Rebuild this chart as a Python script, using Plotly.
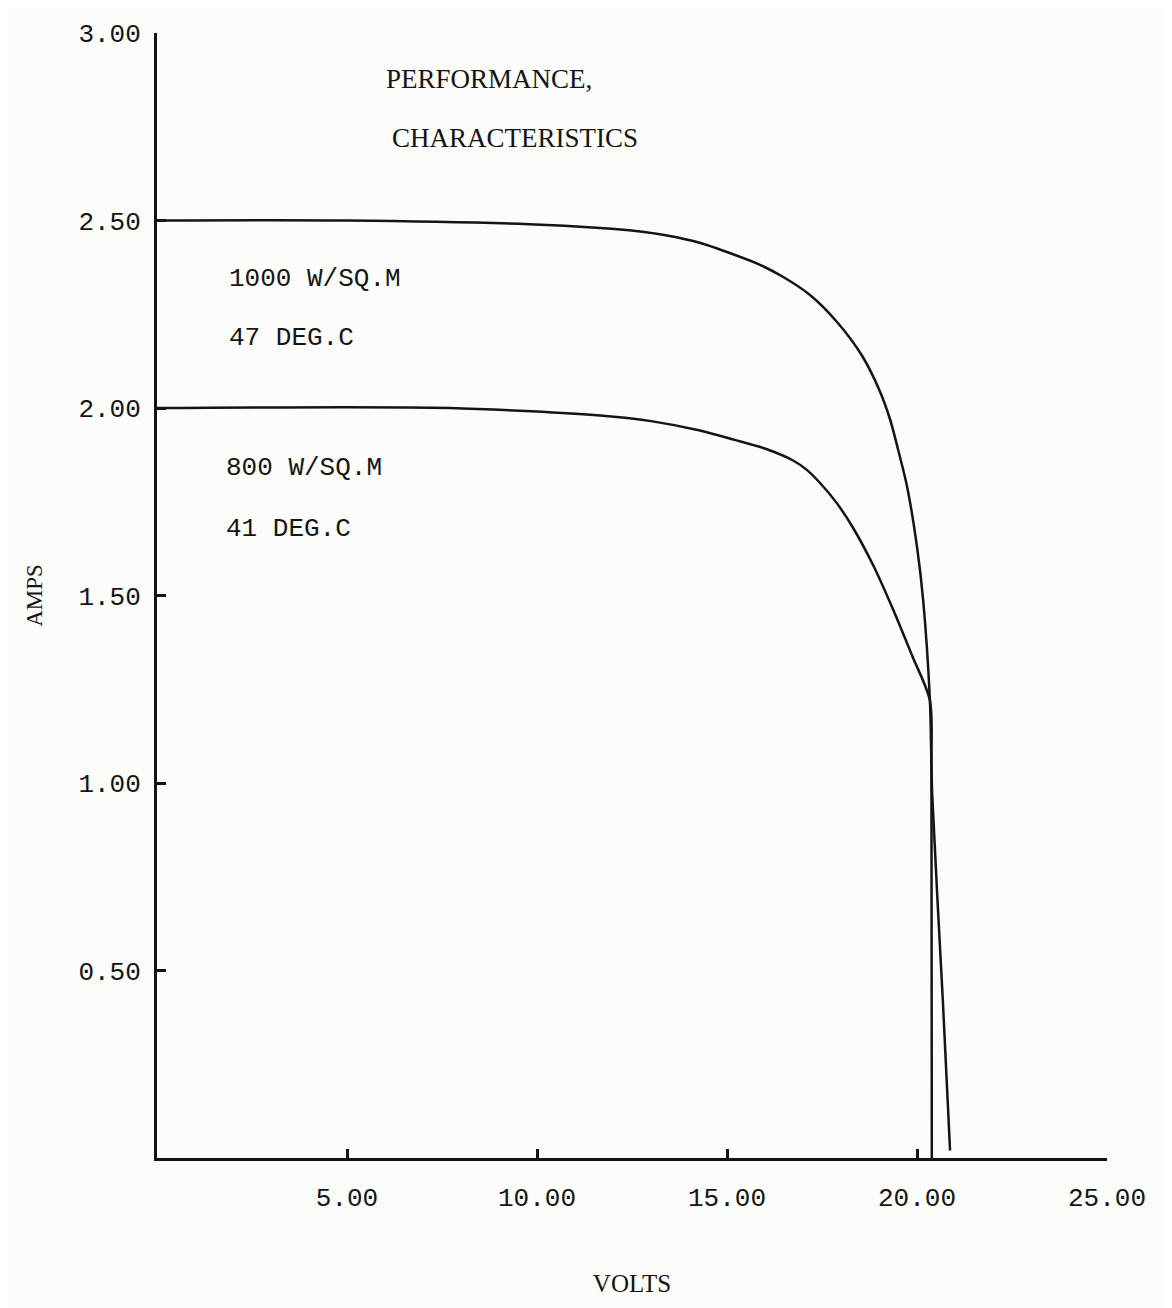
import plotly.graph_objects as go

# I-V curve readings (volts, amps)
volts_1000 = [0.0, 5.0, 9.8, 11.66, 12.6, 13.42, 14.3, 15.16, 15.8, 16.47, 17.2, 17.89, 18.55, 19.0, 19.29, 19.55, 19.74, 20.0, 20.16, 20.34, 20.40, 20.68, 20.87]
amps_1000 = [2.50, 2.50, 2.49, 2.48, 2.472, 2.46, 2.44, 2.41, 2.385, 2.35, 2.30, 2.23, 2.14, 2.05, 1.97, 1.87, 1.79, 1.63, 1.49, 1.22, 0.97, 0.42, 0.02]

volts_800 = [0.0, 7.7, 11.66, 13.0, 14.29, 15.2, 16.05, 16.74, 17.1, 17.45, 17.9, 18.32, 18.85, 19.34, 19.87, 20.34, 20.38, 20.39]
amps_800 = [2.00, 2.00, 1.98, 1.965, 1.94, 1.915, 1.89, 1.86, 1.835, 1.80, 1.745, 1.68, 1.58, 1.47, 1.34, 1.22, 1.05, 0.0]

x_ticks = [5, 10, 15, 20, 25]
x_tick_labels = ["5.00", "10.00", "15.00", "20.00", "25.00"]
y_ticks = [0.5, 1.0, 1.5, 2.0, 2.5, 3.0]
y_tick_labels = ["0.50", "1.00", "1.50", "2.00", "2.50", "3.00"]

ink = "#141414"
mono = "Liberation Mono, Courier New, monospace"
serif = "Liberation Serif, Times New Roman, serif"

fig = go.Figure()
fig.add_trace(go.Scatter(x=volts_1000, y=amps_1000, mode="lines",
                         line=dict(color=ink, width=2.5, shape="spline", smoothing=0.8),
                         showlegend=False, name="1000 W/SQ.M 47 DEG.C"))
fig.add_trace(go.Scatter(x=volts_800, y=amps_800, mode="lines",
                         line=dict(color=ink, width=2.5, shape="spline", smoothing=0.8),
                         showlegend=False, name="800 W/SQ.M 41 DEG.C"))

# plot area in page pixels: x 157..1107, y 22..1158
notes = [
    ("PERFORMANCE,", 384, 68, serif, 27),
    ("CHARACTERISTICS", 390, 128, serif, 27),
    ("1000 W/SQ.M", 227, 270, mono, 26),
    ("47 DEG.C", 227, 330, mono, 26),
    ("800 W/SQ.M", 224, 461, mono, 26),
    ("41 DEG.C", 224, 523, mono, 26),
]
for txt, px, py, fam, sz in notes:
    fig.add_annotation(text=txt, xref="paper", yref="paper",
                       x=(px - 157) / (1107 - 157), y=(1158 - py) / (1158 - 22),
                       xanchor="left", yanchor="middle", showarrow=False,
                       font=dict(family=fam, size=sz, color=ink))

fig.update_layout(
    width=1172, height=1308,
    margin=dict(l=149, r=73, t=14, b=158),
    paper_bgcolor="#fcfcfb", plot_bgcolor="#fcfcfb",
    showlegend=False,
    xaxis=dict(range=[0, 25], tickvals=x_ticks, ticktext=x_tick_labels,
               showgrid=False, zeroline=False, showline=True, linecolor=ink, linewidth=3,
               ticks="inside", ticklen=9, tickwidth=3, tickcolor=ink,
               ticklabelstandoff=14,
               tickfont=dict(family=mono, size=26, color=ink),
               title=dict(text="VOLTS", font=dict(family=serif, size=25, color=ink), standoff=62)),
    yaxis=dict(range=[0, 3], tickvals=y_ticks, ticktext=y_tick_labels,
               showgrid=False, zeroline=False, showline=True, linecolor=ink, linewidth=3,
               ticks="inside", ticklen=9, tickwidth=3, tickcolor=ink,
               ticklabelstandoff=8,
               tickfont=dict(family=mono, size=26, color=ink),
               title=dict(text="AMPS", font=dict(family=serif, size=23, color=ink), standoff=30)),
)

fig.write_html("out.html")
